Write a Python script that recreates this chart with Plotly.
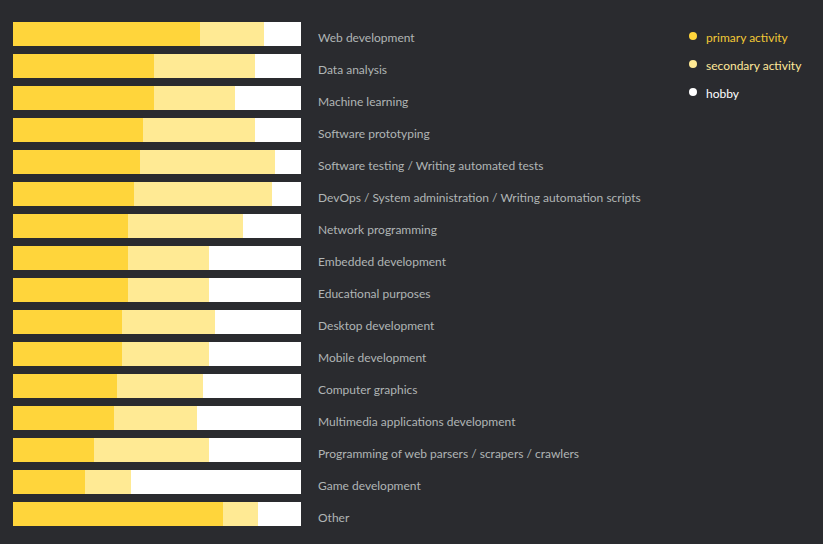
import plotly.graph_objects as go

categories = [
    "Web development", "Data analysis", "Machine learning", "Software prototyping",
    "Software testing / Writing automated tests",
    "DevOps / System administration / Writing automation scripts",
    "Network programming", "Embedded development", "Educational purposes",
    "Desktop development", "Mobile development", "Computer graphics",
    "Multimedia applications development",
    "Programming of web parsers / scrapers / crawlers",
    "Game development", "Other",
]
primary = [65, 49, 49, 45, 44, 42, 40, 40, 40, 38, 38, 36, 35, 28, 25, 73]
secondary = [22, 35, 28, 39, 47, 48, 40, 28, 28, 32, 30, 30, 29, 40, 16, 12]
hobby = [13, 16, 23, 16, 9, 10, 20, 32, 32, 30, 32, 34, 36, 32, 59, 15]

series_names = ["primary activity", "secondary activity", "hobby"]
colors = ["#ffd53b", "#ffea94", "#ffffff"]
legend_text_colors = ["#f2c936", "#ffe89a", "#ffffff"]

BG = "#2a2b2f"
FONT = "Lato"
LABEL_COLOR = "#b0b5b5"

W, H = 823, 544
ML, MR, MT, MB = 13, 0, 18, 14
BAR_W = 288  # pixel width of the bar area

fig = go.Figure()
for name, vals, col in zip(series_names, [primary, secondary, hobby], colors):
    fig.add_trace(go.Bar(
        y=categories, x=vals, orientation="h", name=name,
        marker=dict(color=col, line=dict(width=0)),
        showlegend=False, hoverinfo="x+y",
    ))

# custom legend drawn on an overlay axis measured in pixels of the figure
leg_x = [693] * 3
leg_y = [36, 64, 92]
fig.add_trace(go.Scatter(
    x=leg_x, y=leg_y, xaxis="x2", yaxis="y2", mode="markers",
    marker=dict(color=colors, size=8, symbol="circle"),
    cliponaxis=False, showlegend=False, hoverinfo="skip",
))
for name, tcol, yy in zip(series_names, legend_text_colors, leg_y):
    fig.add_annotation(
        x=705, y=yy + 1.5, xref="x2", yref="y2", text=name, showarrow=False,
        xanchor="left", yanchor="middle", borderpad=0,
        font=dict(family=FONT, size=12, color=tcol),
    )

plot_w = W - ML - MR
fig.update_layout(
    width=W, height=H,
    paper_bgcolor=BG, plot_bgcolor="rgba(0,0,0,0)",
    barmode="stack", bargap=0.25,
    margin=dict(l=ML, r=MR, t=MT, b=MB, autoexpand=False),
    font=dict(family=FONT, size=12, color=LABEL_COLOR),
    xaxis=dict(range=[0, 100], domain=[0, BAR_W / plot_w], visible=False,
               fixedrange=True),
    yaxis=dict(
        autorange="reversed", side="right", showgrid=False, zeroline=False,
        showline=False, ticks="", ticklabelstandoff=16, ticklabelshift=-4,
        tickfont=dict(family=FONT, size=12, color=LABEL_COLOR),
        fixedrange=True,
    ),
    xaxis2=dict(range=[ML, W - MR], domain=[0, 1], anchor="y2", visible=False,
                fixedrange=True),
    yaxis2=dict(range=[H - MB, MT], anchor="x2", domain=[0, 1], visible=False,
                fixedrange=True),
)

fig.write_html(
    "out.html",
    config={"displayModeBar": False},
    post_script="document.body.style.margin='0';document.body.style.background='%s';" % BG,
)
